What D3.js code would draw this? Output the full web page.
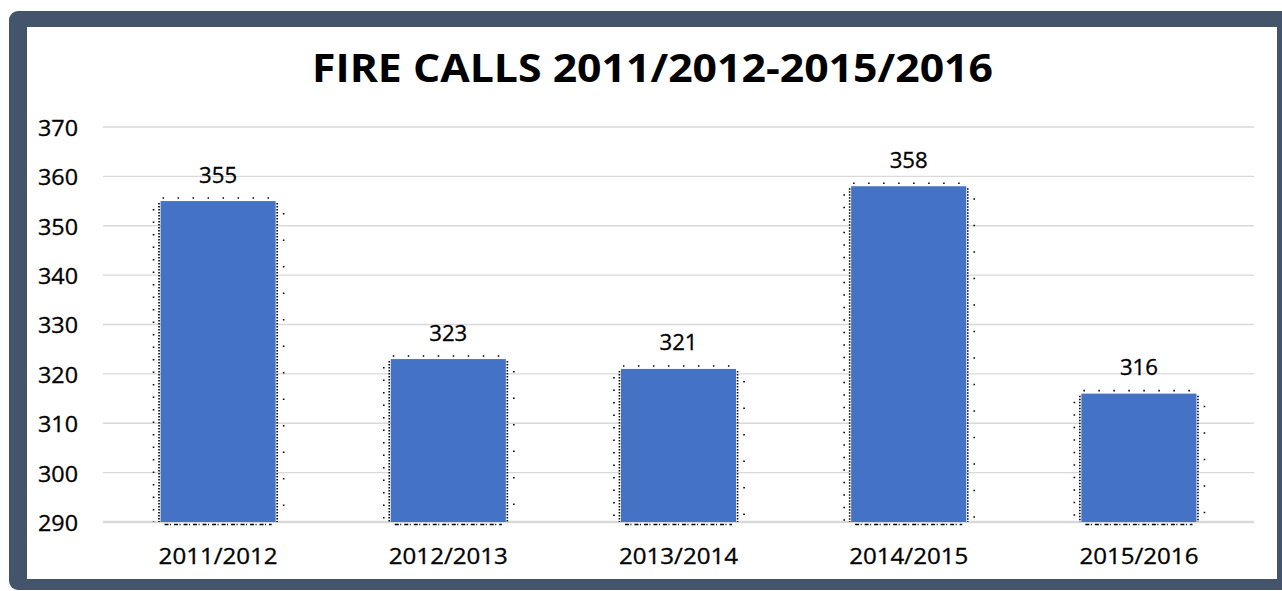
<!DOCTYPE html>
<html>
<head>
<meta charset="utf-8">
<script src="https://cdn.jsdelivr.net/npm/d3@7"></script>
<style>
  html, body { margin: 0; padding: 0; background: #ffffff; }
  svg { display: block; }
  text { font-family: "Open Sans", "Noto Sans", sans-serif; fill: #000; }
  .lbl { stroke: #000; stroke-width: 0.3px; }
</style>
</head>
<body>
<svg id="chart" width="1282" height="591"></svg>
<script>
const title = "FIRE CALLS 2011/2012-2015/2016";
const categories = ["2011/2012", "2012/2013", "2013/2014", "2014/2015", "2015/2016"];
const values = [355, 323, 321, 358, 316];
const yTicks = [290, 300, 310, 320, 330, 340, 350, 360, 370];

const svg = d3.select("#chart");

// frame
svg.append("rect").attr("x", 9).attr("y", 11).attr("width", 1290).attr("height", 579)
  .attr("rx", 9).attr("fill", "#44546a");
svg.append("rect").attr("x", 27).attr("y", 27).attr("width", 1250).attr("height", 552)
  .attr("fill", "#ffffff");

const plot = { left: 103, right: 1254, top: 127, bottom: 522 };

const x = d3.scaleBand().domain(categories).range([plot.left, plot.right])
  .paddingInner(0.5).paddingOuter(0.25);
const y = d3.scaleLinear().domain([290, 370]).range([plot.bottom, plot.top]);

// title
svg.append("text").attr("x", 652.5).attr("y", 82).attr("text-anchor", "middle")
  .attr("font-size", 40).attr("font-weight", 700)
  .attr("textLength", 681).attr("lengthAdjust", "spacingAndGlyphs")
  .text(title);

// gridlines
svg.append("g").selectAll("line").data(yTicks).join("line")
  .attr("x1", plot.left).attr("x2", plot.right)
  .attr("y1", d => y(d)).attr("y2", d => y(d))
  .attr("stroke", "#d9d9d9")
  .attr("stroke-width", d => d === 290 ? 2.5 : 1.3);

// y axis labels
const yAxis = d3.axisLeft(y).tickValues(yTicks).tickSize(0).tickPadding(0).tickFormat(d3.format("d"));
const gy = svg.append("g").attr("transform", `translate(78,0)`).call(yAxis);
gy.select(".domain").remove();
gy.selectAll("text").attr("class", "lbl").attr("font-size", 21).attr("fill", "#000")
  .attr("dy", "0.4em")
  .attr("textLength", 40).attr("lengthAdjust", "spacingAndGlyphs")
  .style("font-family", '"Open Sans", "Noto Sans", sans-serif');

// x axis labels
const xAxis = d3.axisBottom(x).tickSize(0).tickPadding(0);
const gx = svg.append("g").attr("transform", `translate(0,564)`).call(xAxis);
gx.select(".domain").remove();
gx.selectAll("text").attr("class", "lbl").attr("font-size", 21).attr("fill", "#000")
  .attr("y", 0).attr("dy", 0)
  .attr("textLength", 119).attr("lengthAdjust", "spacingAndGlyphs")
  .style("font-family", '"Open Sans", "Noto Sans", sans-serif');

const data = categories.map((c, i) => ({ c, v: values[i] }));

// dotted shadow artifacts around bars
const dots = svg.append("g").attr("stroke", "#000").attr("fill", "none");
data.forEach(d => {
  const l = x(d.c), r = x(d.c) + x.bandwidth(), t = y(d.v), b = y(290);
  dots.append("line").attr("x1", l - 1.5).attr("x2", l - 1.5).attr("y1", t + 2).attr("y2", b)
    .attr("stroke-width", 1.6).attr("stroke-dasharray", "1.5,1.5");
  dots.append("line").attr("x1", r + 1.5).attr("x2", r + 1.5).attr("y1", t + 2).attr("y2", b)
    .attr("stroke-width", 1.6).attr("stroke-dasharray", "1.5,1.5");
  dots.append("line").attr("x1", l - 7).attr("x2", l - 7).attr("y1", t + 8).attr("y2", b)
    .attr("stroke-width", 1.6).attr("stroke-dasharray", "1.5,11");
  dots.append("line").attr("x1", r + 8).attr("x2", r + 8).attr("y1", t + 12).attr("y2", b)
    .attr("stroke-width", 1.6).attr("stroke-dasharray", "1.5,25");
  dots.append("line").attr("x1", l + 2).attr("x2", r - 2).attr("y1", t - 3).attr("y2", t - 3)
    .attr("stroke-width", 1.6).attr("stroke-dasharray", "1.5,13.5");
  dots.append("line").attr("x1", l + 4).attr("x2", r - 4).attr("y1", b + 2.5).attr("y2", b + 2.5)
    .attr("stroke-width", 1.3).attr("stroke-dasharray", "4,1.5,1,3");
});

// bars
svg.append("g").selectAll("rect").data(data).join("rect")
  .attr("x", d => x(d.c)).attr("width", x.bandwidth())
  .attr("y", d => y(d.v)).attr("height", d => y(290) - y(d.v))
  .attr("fill", "#4472c4");

// value labels
svg.append("g").selectAll("text").data(data).join("text")
  .attr("class", "lbl")
  .attr("x", d => x(d.c) + x.bandwidth() / 2)
  .attr("y", d => y(d.v) - 18.5)
  .attr("text-anchor", "middle").attr("font-size", 21)
  .attr("textLength", 38).attr("lengthAdjust", "spacingAndGlyphs")
  .text(d => d.v);
</script>
</body>
</html>
